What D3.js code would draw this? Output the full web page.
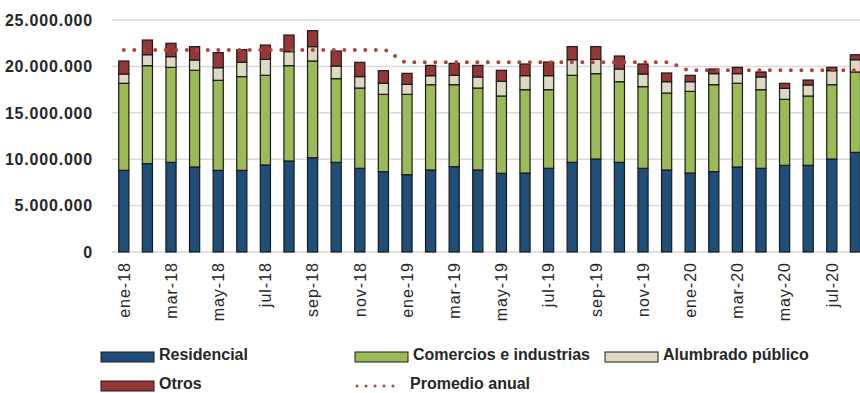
<!DOCTYPE html>
<html>
<head>
<meta charset="utf-8">
<script src="https://cdn.jsdelivr.net/npm/d3@7"></script>
<style>
  body { margin: 0; background: #fff; }
  svg { display: block; overflow: hidden; }
  text { font-family: "Liberation Sans", Arial, sans-serif; fill: #262626; }
</style>
</head>
<body>
<div id="chart"></div>
<script>
// months (ene-18 .. ago-20)
var months = ["ene-18","feb-18","mar-18","abr-18","may-18","jun-18","jul-18","ago-18","sep-18","oct-18","nov-18","dic-18",
              "ene-19","feb-19","mar-19","abr-19","may-19","jun-19","jul-19","ago-19","sep-19","oct-19","nov-19","dic-19",
              "ene-20","feb-20","mar-20","abr-20","may-20","jun-20","jul-20","ago-20"];

// values in millions
var residencial = [8.80,9.52,9.66,9.16,8.80,8.80,9.38,9.81,10.16,9.66,9.02,8.66,
                   8.33,8.84,9.20,8.84,8.48,8.51,9.02,9.66,10.02,9.66,9.02,8.84,
                   8.51,8.66,9.16,9.02,9.34,9.34,10.02,10.74];
var comercios = [9.38,10.56,10.24,10.42,9.70,10.10,9.66,10.27,10.42,9.02,8.65,8.33,
                 8.66,9.19,8.83,8.83,8.33,8.98,8.47,9.38,9.20,8.69,8.80,8.29,
                 8.80,9.37,9.02,8.47,7.11,7.47,8.01,8.66];
var alumbrado = [1.00,1.18,1.15,1.11,1.36,1.54,1.72,1.51,1.55,1.36,1.23,1.19,
                 1.08,0.97,1.01,1.19,1.58,1.51,1.51,1.68,1.54,1.37,1.36,1.22,
                 1.04,1.19,1.04,1.37,1.19,1.19,1.51,1.32];
var otros = [1.40,1.58,1.44,1.44,1.62,1.36,1.54,1.79,1.72,1.62,1.54,1.36,
             1.18,1.11,1.29,1.25,1.19,1.26,1.47,1.41,1.37,1.40,1.08,0.94,
             0.69,0.50,0.68,0.54,0.54,0.53,0.36,0.54];

var years = ["18", "19", "20"];
var promedioAnual = [21.77, 20.44, 19.58];

var yTicks = [0, 5, 10, 15, 20, 25];

var seriesNames = ["Residencial", "Comercios e industrias", "Alumbrado público", "Otros"];
var colors = ["#1f4e79", "#9bbb59", "#ddd9c3", "#953735"];
var lineColor = "#b0413e";

var width = 860, height = 393;

var svg = d3.select("#chart").append("svg")
    .attr("width", width)
    .attr("height", height);

var x = d3.scaleBand()
    .domain(months)
    .range([112, 112 + 23.6 * months.length])
    .paddingInner(0.57)
    .paddingOuter(0.285);

var y = d3.scaleLinear()
    .domain([0, 25])
    .range([252, 20]);

var fmt = function(v) {
    return d3.format(",")(v * 1e6).replace(/,/g, ".");
};

// gridlines
svg.append("g")
    .selectAll("line")
    .data(yTicks)
    .enter()
    .append("line")
    .attr("x1", 112)
    .attr("x2", width)
    .attr("y1", function(d) { return y(d); })
    .attr("y2", function(d) { return y(d); })
    .attr("stroke", "#d9d9d9")
    .attr("stroke-width", 1.5);

// y axis labels
svg.append("g")
    .selectAll("text")
    .data(yTicks)
    .enter()
    .append("text")
    .attr("x", 93)
    .attr("y", function(d) { return y(d); })
    .attr("dy", "0.36em")
    .attr("text-anchor", "end")
    .attr("font-size", 16)
    .attr("font-weight", "bold")
    .attr("letter-spacing", 0.8)
    .text(function(d) { return d === 0 ? "0" : fmt(d); });

// stacked bars
var table = months.map(function(m, i) {
    return { mes: m, r: residencial[i], c: comercios[i], a: alumbrado[i], o: otros[i] };
});
var stack = d3.stack().keys(["r", "c", "a", "o"]);
var layers = stack(table);

svg.append("g")
    .selectAll("g")
    .data(layers)
    .enter()
    .append("g")
    .attr("fill", function(d, i) { return colors[i]; })
    .selectAll("rect")
    .data(function(d) { return d; })
    .enter()
    .append("rect")
    .attr("x", function(d) { return x(d.data.mes); })
    .attr("width", x.bandwidth())
    .attr("y", function(d) { return y(d[1]); })
    .attr("height", function(d) { return y(d[0]) - y(d[1]); })
    .attr("stroke", "#1a1a1a")
    .attr("stroke-width", 1.2);

// promedio anual (dotted)
var line = d3.line()
    .x(function(d) { return x(d) + x.bandwidth() / 2; })
    .y(function(d) { return y(promedioAnual[years.indexOf(d.slice(4))]); })
    .curve(d3.curveMonotoneX);

svg.append("path")
    .datum(months)
    .attr("d", line)
    .attr("fill", "none")
    .attr("stroke", lineColor)
    .attr("stroke-width", 4)
    .attr("stroke-linecap", "round")
    .attr("stroke-dasharray", "0 10.5");

// x axis labels (every other month)
svg.append("g")
    .selectAll("text")
    .data(months.filter(function(d, i) { return i % 2 === 0; }))
    .enter()
    .append("text")
    .attr("transform", function(d) {
        return "translate(" + (x(d) + x.bandwidth() / 2) + ",262) rotate(-90)";
    })
    .attr("dy", "0.36em")
    .attr("text-anchor", "end")
    .attr("font-size", 16)
    .attr("letter-spacing", 1)
    .text(function(d) { return d; });

// legend
var legendItems = [
    { name: seriesNames[0], color: colors[0], x: 101, y: 357, type: "rect" },
    { name: seriesNames[1], color: colors[1], x: 355, y: 357, type: "rect" },
    { name: seriesNames[2], color: colors[2], x: 605, y: 357, type: "rect" },
    { name: seriesNames[3], color: colors[3], x: 101, y: 386, type: "rect" },
    { name: "Promedio anual", color: lineColor, x: 355, y: 386, type: "line" }
];

var legend = svg.append("g")
    .selectAll("g")
    .data(legendItems)
    .enter()
    .append("g")
    .attr("transform", function(d) { return "translate(" + d.x + "," + d.y + ")"; });

legend.filter(function(d) { return d.type === "rect"; })
    .append("rect")
    .attr("x", 0)
    .attr("y", -5)
    .attr("width", 53)
    .attr("height", 10)
    .attr("fill", function(d) { return d.color; })
    .attr("stroke", "#1a1a1a")
    .attr("stroke-width", 1);

legend.filter(function(d) { return d.type === "line"; })
    .append("line")
    .attr("x1", 2)
    .attr("x2", 46)
    .attr("y1", 0)
    .attr("y2", 0)
    .attr("stroke", function(d) { return d.color; })
    .attr("stroke-width", 3)
    .attr("stroke-linecap", "round")
    .attr("stroke-dasharray", "0 9");

legend.append("text")
    .attr("x", function(d) { return d.type === "line" ? 55 : 58; })
    .attr("y", 3)
    .attr("font-size", 16)
    .attr("font-weight", "bold")
    .text(function(d) { return d.name; });
</script>
</body>
</html>
